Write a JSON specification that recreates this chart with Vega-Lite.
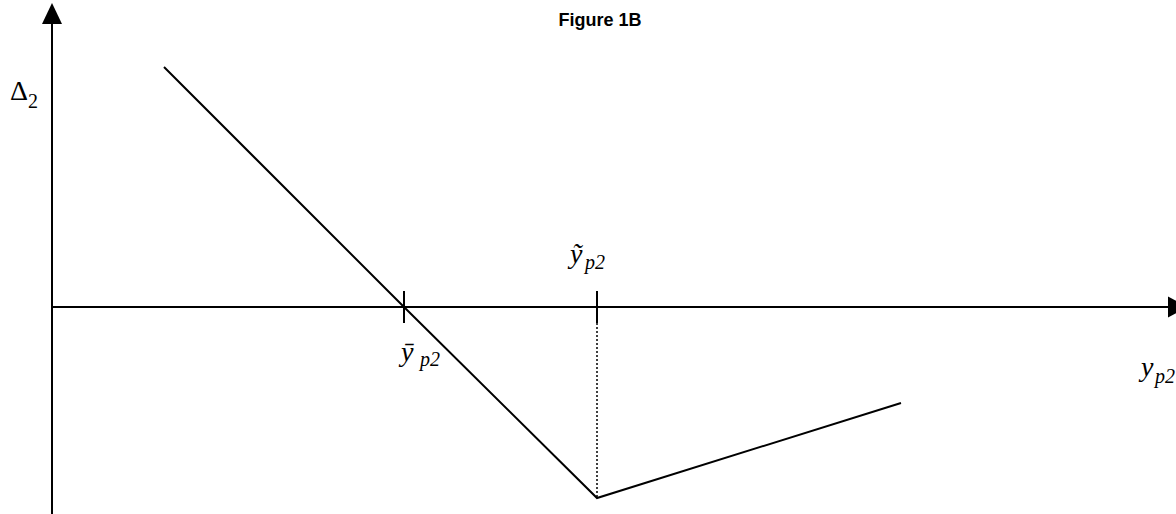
{
  "$schema": "https://vega.github.io/schema/vega-lite/v6.json",
  "width": 1176,
  "height": 514,
  "autosize": "none",
  "padding": 0,
  "background": "white",
  "config": {"view": {"stroke": null}},
  "datasets": {
    "axes": [
      {"x": 0, "y": -207, "x2": 0, "y2": 283},
      {"x": 0, "y": 0, "x2": 1116, "y2": 0}
    ],
    "ticks": [
      {"x": 352, "y": -16, "x2": 352, "y2": 16},
      {"x": 545, "y": -16, "x2": 545, "y2": 16}
    ],
    "dotted": [
      {"x": 545, "y": -16, "x2": 545, "y2": -191}
    ],
    "curve": [
      {"x": 112, "y": 240, "o": 1},
      {"x": 352, "y": 0, "o": 2},
      {"x": 545, "y": -191, "o": 3},
      {"x": 849, "y": -96, "o": 4}
    ],
    "arrowUp": [{"x": 0, "y": 293.5}],
    "arrowRight": [{"x": 1126, "y": 0}],
    "title": [{"x": 548, "y": 281, "t": "Figure 1B"}],
    "mainItalic": [
      {"x": 349, "y": -54, "t": "ȳ"},
      {"x": 518, "y": 44, "t": "ỹ"},
      {"x": 1089, "y": -69, "t": "y"}
    ],
    "subItalic": [
      {"x": 368, "y": -59, "t": "p2"},
      {"x": 533, "y": 38, "t": "p2"},
      {"x": 1103, "y": -76, "t": "p2"}
    ],
    "delta": [{"x": -42, "y": 207, "t": "Δ"}],
    "deltaSub": [{"x": -24, "y": 199, "t": "2"}]
  },
  "encoding": {
    "x": {"field": "x", "type": "quantitative", "scale": {"domain": [-52, 1124], "zero": false, "nice": false}, "axis": null},
    "y": {"field": "y", "type": "quantitative", "scale": {"domain": [-207, 307], "zero": false, "nice": false}, "axis": null}
  },
  "layer": [
    {
      "data": {"name": "axes"},
      "mark": {"type": "rule", "stroke": "black", "strokeWidth": 2},
      "encoding": {"x2": {"field": "x2"}, "y2": {"field": "y2"}}
    },
    {
      "data": {"name": "ticks"},
      "mark": {"type": "rule", "stroke": "black", "strokeWidth": 2},
      "encoding": {"x2": {"field": "x2"}, "y2": {"field": "y2"}}
    },
    {
      "data": {"name": "dotted"},
      "mark": {"type": "rule", "stroke": "black", "strokeWidth": 1.5, "strokeDash": [2, 2]},
      "encoding": {"x2": {"field": "x2"}, "y2": {"field": "y2"}}
    },
    {
      "data": {"name": "curve"},
      "mark": {"type": "line", "stroke": "black", "strokeWidth": 2},
      "encoding": {"order": {"field": "o", "type": "quantitative"}}
    },
    {
      "data": {"name": "arrowUp"},
      "mark": {"type": "point", "shape": "M0,-1.05L1,1.05L-1,1.05Z", "size": 400, "filled": true, "fill": "black", "stroke": null, "opacity": 1}
    },
    {
      "data": {"name": "arrowRight"},
      "mark": {"type": "point", "shape": "M-1,-1.05L1,0L-1,1.05Z", "size": 400, "filled": true, "fill": "black", "stroke": null, "opacity": 1}
    },
    {
      "data": {"name": "title"},
      "mark": {"type": "text", "font": "Liberation Sans", "fontWeight": "bold", "fontSize": 18, "align": "center", "baseline": "alphabetic", "fill": "black"},
      "encoding": {"text": {"field": "t"}}
    },
    {
      "data": {"name": "mainItalic"},
      "mark": {"type": "text", "font": "Liberation Serif", "fontStyle": "italic", "fontSize": 28, "align": "left", "baseline": "alphabetic", "fill": "black"},
      "encoding": {"text": {"field": "t"}}
    },
    {
      "data": {"name": "subItalic"},
      "mark": {"type": "text", "font": "Liberation Serif", "fontStyle": "italic", "fontSize": 20, "align": "left", "baseline": "alphabetic", "fill": "black"},
      "encoding": {"text": {"field": "t"}}
    },
    {
      "data": {"name": "delta"},
      "mark": {"type": "text", "font": "Liberation Serif", "fontSize": 28, "align": "left", "baseline": "alphabetic", "fill": "black"},
      "encoding": {"text": {"field": "t"}}
    },
    {
      "data": {"name": "deltaSub"},
      "mark": {"type": "text", "font": "Liberation Serif", "fontSize": 20, "align": "left", "baseline": "alphabetic", "fill": "black"},
      "encoding": {"text": {"field": "t"}}
    }
  ]
}
